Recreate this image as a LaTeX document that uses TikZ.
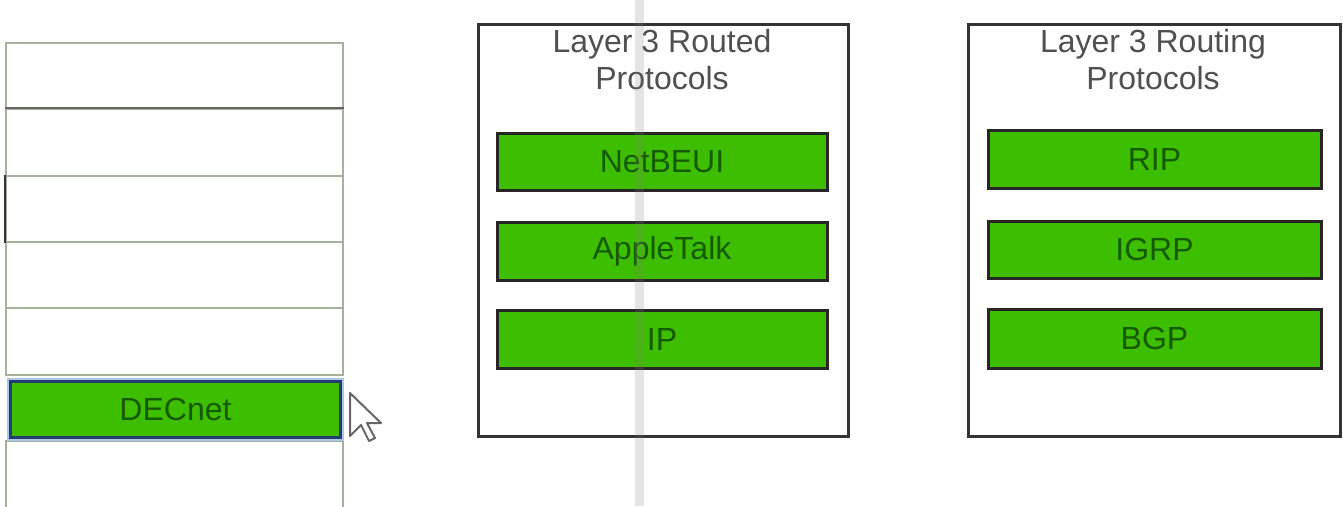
\documentclass[tikz,border=0pt]{standalone}
\usepackage{fontspec}
\setmainfont{Liberation Sans}
\definecolor{boxgreen}{HTML}{3DBE00}
\definecolor{txtgreen}{HTML}{165A00}
\definecolor{titlegray}{HTML}{505050}
\definecolor{slotline}{HTML}{A4B29C}
\definecolor{selblue}{HTML}{243C6E}
\definecolor{glowblue}{HTML}{A9C6E2}
\begin{document}
\begin{tikzpicture}[x=1pt,y=-1pt,
  txt/.style={font=\fontsize{32}{37}\selectfont},
  slot/.style={draw=slotline, line width=1.5pt, fill=white, rectangle, inner sep=0pt, minimum width=337pt, anchor=north west},
  greenbox/.style={draw=black!85, line width=3pt, fill=boxgreen, rectangle, inner sep=0pt, txt, text=txtgreen},
  panel/.style={draw=black!80, line width=3pt, fill=white, rectangle, inner sep=0pt, anchor=north west},
  title/.style={txt, text=titlegray, align=center, inner sep=0pt}]
\useasboundingbox (0,0) rectangle (1343,506);
\fill[white] (0,0) rectangle (1343,506);
% left slots
\node[slot, minimum height=65pt] (s1) at (5,42) {};
\node[slot, minimum height=67pt] (s2) at (5,108) {};
\node[slot, minimum height=66pt] (s3) at (5,175) {};
\node[slot, minimum height=66pt] (s4) at (5,241) {};
\node[slot, minimum height=67pt] (s5) at (5,307) {};
\node[slot, minimum height=80pt] (s7) at (5,440) {};
\draw[black!60, line width=1.5pt] (s2.north west) -- (s2.north east);
\draw[black!80, line width=2pt] (s3.north west) -- (s3.south west);
% selected DECnet
\node[draw=glowblue, line width=4pt, rectangle, minimum width=333pt, minimum height=59pt, inner sep=0pt, anchor=north west] (decglow) at (7,378) {};
\node[draw=selblue, line width=3.5pt, fill=boxgreen, rectangle, minimum width=330pt, minimum height=56pt, inner sep=0pt, txt, text=txtgreen] (dec) at (decglow.center) {DECnet};
% middle panel
\node[panel, minimum width=370pt, minimum height=412pt] (p1) at (477,23) {};
\node[title] (t1) at (662,60) {Layer 3 Routed\\Protocols};
\node[greenbox, minimum width=330pt, minimum height=57pt] (netbeui) at (662,161.5) {NetBEUI};
\node[greenbox, minimum width=330pt, minimum height=58pt] (appletalk) at (662,251) {AppleTalk};
\node[greenbox, minimum width=330pt, minimum height=58pt] (ip) at (662,339) {IP};
% right panel
\node[panel, minimum width=372pt, minimum height=412pt] (p2) at (967,23) {};
\node[title] (t2) at (1153,60) {Layer 3 Routing\\Protocols};
\node[greenbox, minimum width=333pt, minimum height=58pt] (rip) at (1154.5,159) {RIP};
\node[greenbox, minimum width=333pt, minimum height=57pt] (igrp) at (1154.5,249.5) {IGRP};
\node[greenbox, minimum width=333pt, minimum height=59pt] (bgp) at (1154.5,338.5) {BGP};
% faint vertical artefact line
\fill[gray, opacity=0.2] (635,0) rectangle (644,506);
% mouse cursor
\draw[fill=white, draw=black!60, line width=2pt, line join=round]
  (350,393) -- (350,436) -- (361,425) -- (369,441) -- (375,438) -- (367,423) -- (381,423) -- cycle;
\end{tikzpicture}
\end{document}
